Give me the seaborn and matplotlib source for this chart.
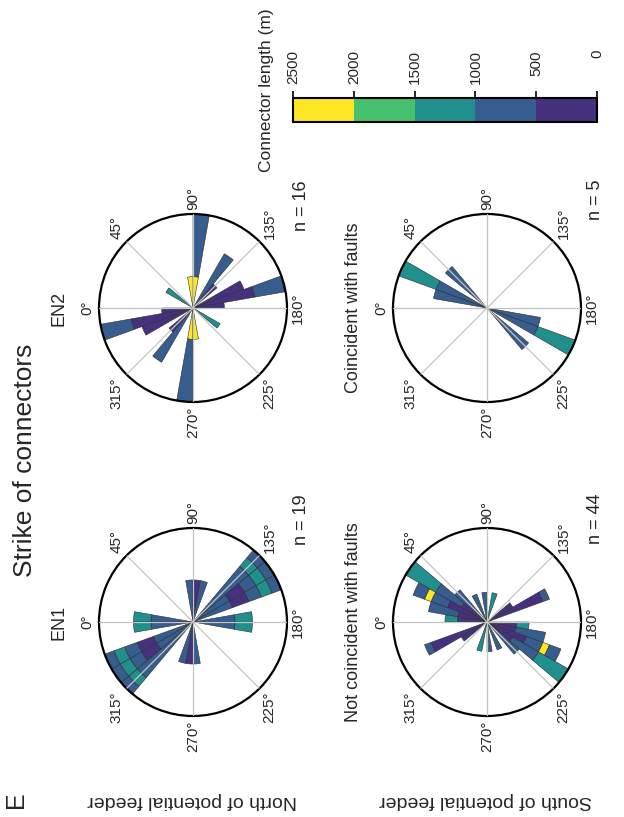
import numpy as np
import matplotlib
matplotlib.use("Agg")
import matplotlib.pyplot as plt
from matplotlib.colors import ListedColormap, BoundaryNorm
from matplotlib.cm import ScalarMappable
from matplotlib.transforms import blended_transform_factory
import seaborn as sns

# connector length classes (m) and colours
LENGTH_EDGES = [0, 500, 1000, 1500, 2000, 2500]
CLASS_COLORS = ["#46317e", "#365d8d", "#21908d", "#47c16e", "#fde725"]

# rose data: start of 10 deg strike bin (plotted again at +180),
# length class of each stacked segment and number of connectors in it
EN1_BINS = [0, 170, 80, 90, 100, 130, 140, 150]
EN1_CLASSES = [[1, 2], [1, 2], [1], [0], [1], [1, 2, 1], [1, 0, 1, 2, 1], [1, 0, 1, 2, 1]]
EN1_COUNTS = [[1, 1], [1, 1], [1], [1], [1], [3, 1, 1], [1, 1, 1, 1, 1], [1, 1, 1, 1, 1]]
EN1_RMAX = 5

EN2_BINS = [90, 80, 120, 130, 150, 160, 170, 30]
EN2_CLASSES = [[4, 1], [4], [1], [0], [0], [0, 1], [0], [2]]
EN2_COUNTS = [[1, 8], [1], [4], [1], [3], [4, 5], [1], [1]]
EN2_RMAX = 9

NC_BINS = [30, 20, 10, 40, 150, 0, 60, 80, 100, 140]
NC_CLASSES = [[0, 1, 2], [0, 1, 4, 1], [0, 1], [1], [0, 1], [0, 2], [1], [1], [2], [0]]
NC_COUNTS = [[1, 3, 6], [2, 2, 1, 2], [1, 3], [2], [4, 1], [1, 1], [1], [1], [1], [1]]
NC_RMAX = 10

CO_BINS = [20, 10, 40]
CO_CLASSES = [[1, 2], [1], [1]]
CO_COUNTS = [[1, 2], [1], [1]]
CO_RMAX = 3

PANEL_TITLES = ["EN1", "EN2", "Not coincident with faults", "Coincident with faults"]
PANEL_N = [19, 16, 44, 5]
ANGLE_TICKS = [0, 45, 90, 135, 180, 225, 270, 315]

sns.set_theme(style="white")
plt.rcParams["font.family"] = ["Liberation Sans", "DejaVu Sans"]

W, H = 624, 817
fig = plt.figure(figsize=(W / 100, H / 100), dpi=100)


def fx(x):
    return x / W


def fy(y):
    return 1 - y / H


def draw_rose(cx, cy, bins, classes, counts, rmax, title, n):
    r = 94
    ax = fig.add_axes([fx(cx - r), fy(cy + r), 2 * r / W, 2 * r / H], projection="polar")
    ax.set_theta_zero_location("W")
    ax.set_theta_direction(-1)
    ax.set_rscale("function", functions=(lambda v: np.sqrt(np.clip(v, 0, None)), np.square))
    for b, cls, cnt in zip(bins, classes, counts):
        bottom = 0
        for c, k in zip(cls, cnt):
            for off in (0, 180):
                ax.bar(np.deg2rad(b + 5 + off), k, width=np.deg2rad(10), bottom=bottom,
                       color=CLASS_COLORS[c], edgecolor="#2b2b2b", linewidth=0.4, zorder=1)
            bottom += k
    ax.set_rlim(0, rmax)
    ax.set_yticks([])
    ax.set_xticks(np.deg2rad(ANGLE_TICKS))
    ax.set_xticklabels([])
    ax.set_axisbelow(False)
    ax.xaxis.grid(True, color="#c4c4c4", linewidth=0.9)
    ax.spines["polar"].set_linewidth(1.6)
    ax.spines["polar"].set_color("black")
    # angle labels sit just outside the rim, anchored by their near corner
    for a in ANGLE_TICKS:
        dx = -np.cos(np.deg2rad(a))
        dy = np.sin(np.deg2rad(a))
        ha = "right" if dx < -0.1 else ("left" if dx > 0.1 else "center")
        va = "bottom" if dy > 0.1 else ("top" if dy < -0.1 else "center")
        ax.annotate(f"{a}°", xy=(np.deg2rad(a), rmax), xytext=(dx * 3, dy * 3),
                    textcoords="offset points", rotation=90, ha=ha, va=va,
                    fontsize=11, annotation_clip=False)
    fig.text(fx(cx - 134), fy(cy), title, rotation=90, ha="center", va="center", fontsize=13)
    fig.text(fx(cx + 109), fy(cy - 128), f"n = {n}", rotation=90, ha="center", va="top", fontsize=13)


draw_rose(193, 622, EN1_BINS, EN1_CLASSES, EN1_COUNTS, EN1_RMAX, PANEL_TITLES[0], PANEL_N[0])
draw_rose(193, 308, EN2_BINS, EN2_CLASSES, EN2_COUNTS, EN2_RMAX, PANEL_TITLES[1], PANEL_N[1])
draw_rose(487, 622, NC_BINS, NC_CLASSES, NC_COUNTS, NC_RMAX, PANEL_TITLES[2], PANEL_N[2])
draw_rose(487, 308, CO_BINS, CO_CLASSES, CO_COUNTS, CO_RMAX, PANEL_TITLES[3], PANEL_N[3])

# colour bar
cax = fig.add_axes([fx(293), fy(122), 304 / W, 24 / H])
cmap = ListedColormap(CLASS_COLORS)
norm = BoundaryNorm(LENGTH_EDGES, cmap.N)
cb = fig.colorbar(ScalarMappable(norm=norm, cmap=cmap), cax=cax, orientation="horizontal",
                  ticks=LENGTH_EDGES)
cax.invert_xaxis()
cb.outline.set_linewidth(1.5)
cb.outline.set_edgecolor("black")
cax.xaxis.set_ticks_position("top")
cax.tick_params(axis="x", top=True, bottom=False, labeltop=False, labelbottom=False,
                direction="out", length=5, width=1.2, color="black")
trans = blended_transform_factory(cax.transData, fig.transFigure)
for v in LENGTH_EDGES:
    cax.text(v, fy(50), str(v), transform=trans, rotation=90, ha="center", va="top", fontsize=11)
fig.text(fx(266), fy(90), "Connector length (m)", rotation=90, ha="center", va="center", fontsize=12.5)

fig.text(fx(25), fy(460), "Strike of connectors", rotation=90, ha="center", va="center", fontsize=19)
fig.text(fx(192), fy(800), "North of potential feeder", rotation=180, ha="center", va="center", fontsize=14)
fig.text(fx(486), fy(800), "South of potential feeder", rotation=180, ha="center", va="center", fontsize=14)
fig.text(fx(16), fy(800), "E", rotation=90, ha="center", va="center", fontsize=18)

fig.savefig("out.png", dpi=100)
plt.close(fig)
